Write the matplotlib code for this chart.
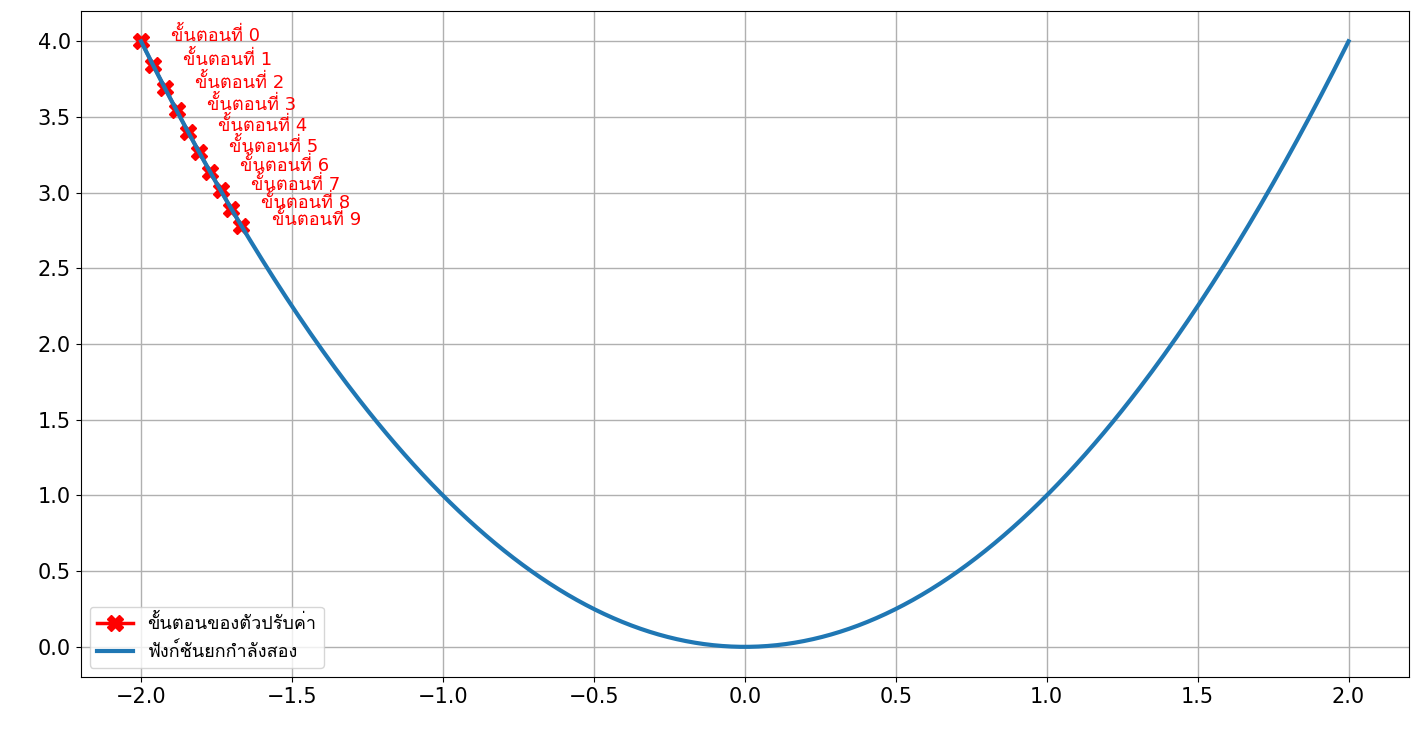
import numpy as np
import matplotlib
matplotlib.use("Agg")
import matplotlib.pyplot as plt
from matplotlib import font_manager

step_x = [-2.0, -1.96, -1.9208, -1.8824, -1.8447, -1.8078, -1.7717, -1.7363, -1.7015, -1.6675]
step_y = [4.0, 3.8416, 3.6895, 3.5434, 3.4030, 3.2683, 3.1389, 3.0146, 2.8952, 2.7806]
step_labels = [f"ขั้นตอนที่ {i}" for i in range(10)]
curve_x = np.linspace(-2, 2, 400)
curve_y = curve_x ** 2

thai = None
try:
    from fontTools.ttLib import TTFont
    for f in font_manager.fontManager.ttflist:
        try:
            tt = TTFont(f.fname, fontNumber=0, lazy=True)
            cmap = tt.getBestCmap()
            if cmap and 0x0E01 in cmap and 0x0E31 in cmap:
                thai = f.name
                break
        except Exception:
            pass
except Exception:
    pass

fams = ['DejaVu Sans']
if thai:
    fams.append(thai)
plt.rcParams['font.family'] = fams

fig, ax = plt.subplots(figsize=(14.16, 7.36), dpi=100)
ax.plot(step_x, step_y, color='red', marker='X', markersize=11, linewidth=2.5,
        label='ขั้นตอนของตัวปรับค่า')
ax.plot(curve_x, curve_y, color='#1f77b4', linewidth=3, label='ฟังก์ชันยกกำลังสอง')
for x, y, t in zip(step_x, step_y, step_labels):
    ax.text(x + 0.1, y + 0.04, t, color='red', fontsize=13, va='center')
ax.grid(True, linewidth=1)
ax.tick_params(labelsize=15)
ax.legend(loc='lower left', fontsize=13)
fig.subplots_adjust(left=0.057, right=0.995, top=0.985, bottom=0.08)
fig.savefig('out.png')
